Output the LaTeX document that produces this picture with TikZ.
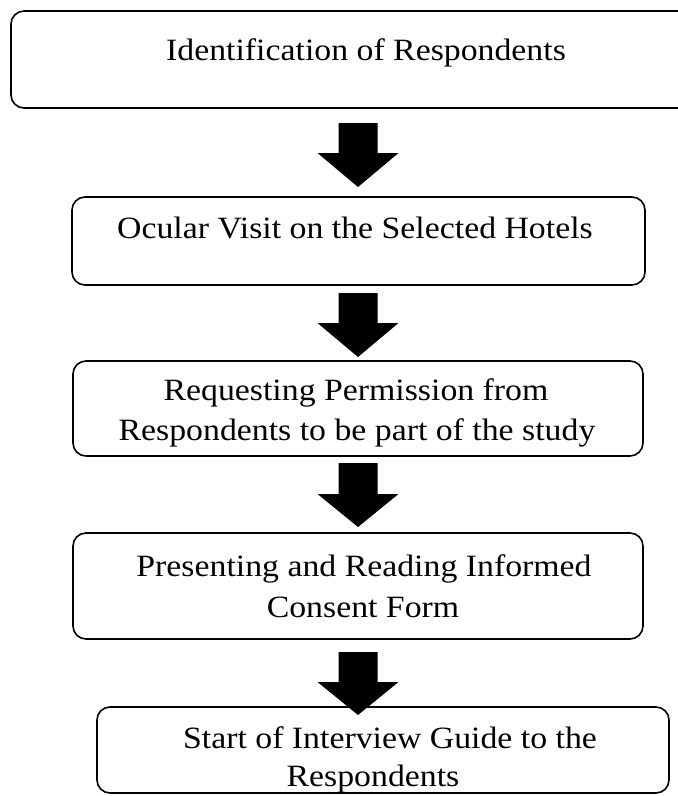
\documentclass[tikz,border=0pt]{standalone}
\usepackage{fontspec}
\setmainfont{Liberation Serif}[FakeStretch=1.09]
\newcommand\blockarrow[4]{% x, top, head start, tip
  \fill[black] (#1-19.5,#2) -- (#1+19.5,#2) -- (#1+19.5,#3) -- (#1+40.5,#3)
    -- (#1,#4) -- (#1-40.5,#3) -- (#1-19.5,#3) -- cycle;}
\begin{document}
\begin{tikzpicture}[x=1pt,y=-1pt,
  stepbox/.style={draw=black, line width=1.6pt, rounded corners=13pt, inner sep=0pt},
  boxline/.style={draw=black, line width=1.6pt, rounded corners=13pt},
  lbl/.style={anchor=base, inner sep=0pt, font=\fontsize{31}{36}\selectfont}]
\useasboundingbox (0,0) rectangle (678,796);
% first box: its right side runs off the picture
\coordinate (b1ne) at (700,11);
\coordinate (b1nw) at (11,11);
\coordinate (b1sw) at (11,108);
\coordinate (b1se) at (700,108);
\path[boxline] (b1ne) -- (b1nw) -- (b1sw) -- (b1se);
% boxes
\node[stepbox, minimum width=573pt, minimum height=88pt] (b2) at (358.5,241) {};
\node[stepbox, minimum width=570pt, minimum height=95pt] (b3) at (358,408.5) {};
\node[stepbox, minimum width=570pt, minimum height=106pt] (b4) at (358,586) {};
\node[stepbox, minimum width=572pt, minimum height=86pt] (b5) at (383,750) {};
% texts
\node[lbl] (t1) at (366,60) {Identification of Respondents};
\node[lbl] (t2) at (355,238) {Ocular Visit on the Selected Hotels};
\node[lbl] (t3a) at (356,400) {Requesting Permission from};
\node[lbl] (t3b) at (357,440) {Respondents to be part of the study};
\node[lbl] (t4a) at (364,576) {Presenting and Reading Informed};
\node[lbl] (t4b) at (363,617) {Consent Form};
\node[lbl] (t5a) at (390,748) {Start of Interview Guide to the};
\node[lbl] (t5b) at (373,786) {Respondents};
% block arrows
\blockarrow{358}{123}{153}{187}
\blockarrow{358}{293}{323}{357}
\blockarrow{358}{463}{494}{527}
\blockarrow{358}{652}{682}{715}
\end{tikzpicture}
\end{document}
